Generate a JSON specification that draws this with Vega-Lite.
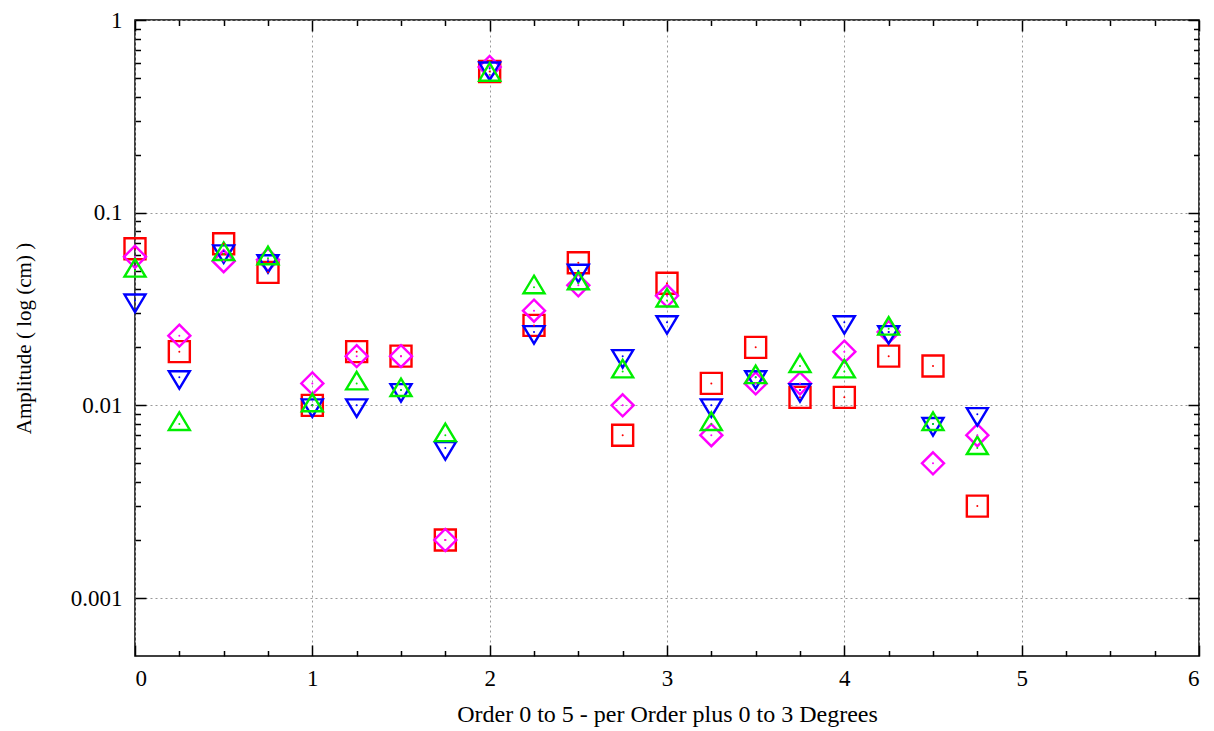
{
  "$schema": "https://vega.github.io/schema/vega-lite/v6.json",
  "width": 1064,
  "height": 636,
  "autosize": {"type": "none"},
  "padding": {"left": 135, "top": 20, "right": 15, "bottom": 75},
  "background": "white",
  "config": {
    "view": {"stroke": "black", "strokeWidth": 1.5},
    "axis": {
      "domain": false,
      "tickColor": "black",
      "tickWidth": 1.5,
      "labelFont": "Liberation Serif",
      "labelFontSize": 23,
      "labelColor": "black",
      "titleFont": "Liberation Serif",
      "titleFontSize": 24,
      "titleFontWeight": "normal",
      "titleColor": "black",
      "gridColor": "#999999",
      "gridDash": [2, 3],
      "gridWidth": 1
    }
  },
  "data": {
    "values": [
      {"x": 0, "amp": 0.065, "series": "a"},
      {"x": 0.25, "amp": 0.019, "series": "a"},
      {"x": 0.5, "amp": 0.069, "series": "a"},
      {"x": 0.75, "amp": 0.049, "series": "a"},
      {"x": 1, "amp": 0.010, "series": "a"},
      {"x": 1.25, "amp": 0.019, "series": "a"},
      {"x": 1.5, "amp": 0.018, "series": "a"},
      {"x": 1.75, "amp": 0.002, "series": "a"},
      {"x": 2, "amp": 0.54, "series": "a"},
      {"x": 2.25, "amp": 0.026, "series": "a"},
      {"x": 2.5, "amp": 0.055, "series": "a"},
      {"x": 2.75, "amp": 0.007, "series": "a"},
      {"x": 3, "amp": 0.043, "series": "a"},
      {"x": 3.25, "amp": 0.013, "series": "a"},
      {"x": 3.5, "amp": 0.020, "series": "a"},
      {"x": 3.75, "amp": 0.011, "series": "a"},
      {"x": 4, "amp": 0.011, "series": "a"},
      {"x": 4.25, "amp": 0.018, "series": "a"},
      {"x": 4.5, "amp": 0.016, "series": "a"},
      {"x": 4.75, "amp": 0.003, "series": "a"},

      {"x": 0, "amp": 0.059, "series": "b"},
      {"x": 0.25, "amp": 0.023, "series": "b"},
      {"x": 0.5, "amp": 0.056, "series": "b"},
      {"x": 0.75, "amp": 0.057, "series": "b"},
      {"x": 1, "amp": 0.013, "series": "b"},
      {"x": 1.25, "amp": 0.018, "series": "b"},
      {"x": 1.5, "amp": 0.018, "series": "b"},
      {"x": 1.75, "amp": 0.002, "series": "b"},
      {"x": 2, "amp": 0.57, "series": "b"},
      {"x": 2.25, "amp": 0.031, "series": "b"},
      {"x": 2.5, "amp": 0.042, "series": "b"},
      {"x": 2.75, "amp": 0.010, "series": "b"},
      {"x": 3, "amp": 0.037, "series": "b"},
      {"x": 3.25, "amp": 0.007, "series": "b"},
      {"x": 3.5, "amp": 0.013, "series": "b"},
      {"x": 3.75, "amp": 0.013, "series": "b"},
      {"x": 4, "amp": 0.019, "series": "b"},
      {"x": 4.25, "amp": 0.024, "series": "b"},
      {"x": 4.5, "amp": 0.005, "series": "b"},
      {"x": 4.75, "amp": 0.007, "series": "b"},

      {"x": 0, "amp": 0.035, "series": "c"},
      {"x": 0.25, "amp": 0.014, "series": "c"},
      {"x": 0.5, "amp": 0.063, "series": "c"},
      {"x": 0.75, "amp": 0.056, "series": "c"},
      {"x": 1, "amp": 0.010, "series": "c"},
      {"x": 1.25, "amp": 0.010, "series": "c"},
      {"x": 1.5, "amp": 0.012, "series": "c"},
      {"x": 1.75, "amp": 0.006, "series": "c"},
      {"x": 2, "amp": 0.56, "series": "c"},
      {"x": 2.25, "amp": 0.024, "series": "c"},
      {"x": 2.5, "amp": 0.050, "series": "c"},
      {"x": 2.75, "amp": 0.018, "series": "c"},
      {"x": 3, "amp": 0.027, "series": "c"},
      {"x": 3.25, "amp": 0.010, "series": "c"},
      {"x": 3.5, "amp": 0.014, "series": "c"},
      {"x": 3.75, "amp": 0.012, "series": "c"},
      {"x": 4, "amp": 0.027, "series": "c"},
      {"x": 4.25, "amp": 0.024, "series": "c"},
      {"x": 4.5, "amp": 0.008, "series": "c"},
      {"x": 4.75, "amp": 0.009, "series": "c"},

      {"x": 0, "amp": 0.050, "series": "d"},
      {"x": 0.25, "amp": 0.008, "series": "d"},
      {"x": 0.5, "amp": 0.061, "series": "d"},
      {"x": 0.75, "amp": 0.058, "series": "d"},
      {"x": 1, "amp": 0.010, "series": "d"},
      {"x": 1.25, "amp": 0.013, "series": "d"},
      {"x": 1.5, "amp": 0.012, "series": "d"},
      {"x": 1.75, "amp": 0.007, "series": "d"},
      {"x": 2, "amp": 0.52, "series": "d"},
      {"x": 2.25, "amp": 0.041, "series": "d"},
      {"x": 2.5, "amp": 0.043, "series": "d"},
      {"x": 2.75, "amp": 0.015, "series": "d"},
      {"x": 3, "amp": 0.035, "series": "d"},
      {"x": 3.25, "amp": 0.008, "series": "d"},
      {"x": 3.5, "amp": 0.014, "series": "d"},
      {"x": 3.75, "amp": 0.016, "series": "d"},
      {"x": 4, "amp": 0.015, "series": "d"},
      {"x": 4.25, "amp": 0.025, "series": "d"},
      {"x": 4.5, "amp": 0.008, "series": "d"},
      {"x": 4.75, "amp": 0.006, "series": "d"}
    ]
  },
  "resolve": {"axis": {"x": "independent", "y": "independent"}},
  "layer": [
    {
      "mark": {"type": "point", "filled": false, "strokeWidth": 2.4, "size": 441, "opacity": 1},
      "encoding": {
        "x": {
          "field": "x", "type": "quantitative",
          "scale": {"domain": [0, 6], "nice": false, "zero": false},
          "axis": {
            "orient": "bottom",
            "values": [0, 1, 2, 3, 4, 5, 6],
            "format": "d",
            "tickSize": -11,
            "labelPadding": 22,
            "grid": true,
            "title": "Order 0 to 5 - per Order plus 0 to 3 Degrees",
            "titlePadding": 12
          }
        },
        "y": {
          "field": "amp", "type": "quantitative",
          "scale": {"type": "log", "domain": [0.0005, 1], "nice": false},
          "axis": {
            "orient": "left",
            "values": [0.001, 0.01, 0.1, 1],
            "format": "~g",
            "tickSize": -11,
            "labelPadding": 24,
            "grid": true,
            "title": "Amplitude ( log (cm) )",
            "titleFontSize": 21,
            "titlePadding": 36
          }
        },
        "color": {
          "field": "series", "type": "nominal", "legend": null,
          "scale": {"domain": ["a", "b", "c", "d"], "range": ["#ff0000", "#ff00ff", "#0000ff", "#00ee00"]}
        },
        "shape": {
          "field": "series", "type": "nominal", "legend": null,
          "scale": {
            "domain": ["a", "b", "c", "d"],
            "range": [
              "M-1,-1L1,-1L1,1L-1,1Z",
              "M0,-1.05L1.05,0L0,1.05L-1.05,0Z",
              "M-1,-0.57L1,-0.57L0,1.1Z",
              "M0,-1.1L1,0.57L-1,0.57Z"
            ]
          }
        }
      }
    },
    {
      "mark": {"type": "circle", "size": 4, "opacity": 1},
      "encoding": {
        "x": {
          "field": "x", "type": "quantitative",
          "axis": {
            "orient": "bottom",
            "values": [0.25, 0.5, 0.75, 1.25, 1.5, 1.75, 2.25, 2.5, 2.75, 3.25, 3.5, 3.75, 4.25, 4.5, 4.75, 5.25, 5.5, 5.75],
            "tickSize": -5.5,
            "labels": false,
            "grid": false,
            "title": null
          }
        },
        "y": {
          "field": "amp", "type": "quantitative",
          "axis": {
            "orient": "left",
            "values": [0.002, 0.003, 0.004, 0.005, 0.006, 0.007, 0.008, 0.009, 0.02, 0.03, 0.04, 0.05, 0.06, 0.07, 0.08, 0.09, 0.2, 0.3, 0.4, 0.5, 0.6, 0.7, 0.8, 0.9],
            "tickSize": -5.5,
            "labels": false,
            "grid": false,
            "title": null
          }
        },
        "color": {"field": "series", "type": "nominal", "legend": null}
      }
    },
    {
      "mark": {"type": "point", "opacity": 0},
      "encoding": {
        "x": {
          "field": "x", "type": "quantitative",
          "axis": {"orient": "top", "values": [0, 1, 2, 3, 4, 5, 6], "tickSize": -11, "labels": false, "grid": false, "title": null}
        },
        "y": {
          "field": "amp", "type": "quantitative",
          "axis": {"orient": "right", "values": [0.001, 0.01, 0.1, 1], "tickSize": -11, "labels": false, "grid": false, "title": null}
        }
      }
    },
    {
      "mark": {"type": "point", "opacity": 0},
      "encoding": {
        "x": {
          "field": "x", "type": "quantitative",
          "axis": {
            "orient": "top",
            "values": [0.25, 0.5, 0.75, 1.25, 1.5, 1.75, 2.25, 2.5, 2.75, 3.25, 3.5, 3.75, 4.25, 4.5, 4.75, 5.25, 5.5, 5.75],
            "tickSize": -5.5, "labels": false, "grid": false, "title": null
          }
        },
        "y": {
          "field": "amp", "type": "quantitative",
          "axis": {
            "orient": "right",
            "values": [0.002, 0.003, 0.004, 0.005, 0.006, 0.007, 0.008, 0.009, 0.02, 0.03, 0.04, 0.05, 0.06, 0.07, 0.08, 0.09, 0.2, 0.3, 0.4, 0.5, 0.6, 0.7, 0.8, 0.9],
            "tickSize": -5.5, "labels": false, "grid": false, "title": null
          }
        }
      }
    }
  ]
}
